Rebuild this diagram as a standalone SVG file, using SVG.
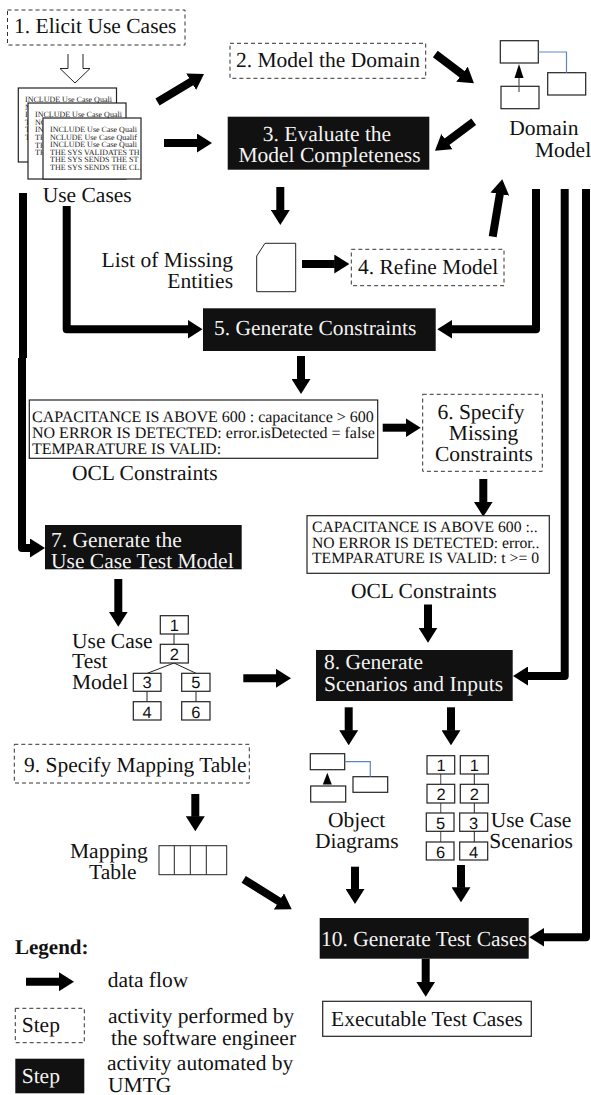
<svg xmlns="http://www.w3.org/2000/svg" width="591" height="1095" viewBox="0 0 591 1095">
<style>
text{font-family:"Liberation Serif","Times New Roman",serif;font-size:21.5px;fill:#111;text-rendering:geometricPrecision}
.w{fill:#f4f4f4}
.d{font-size:8px;fill:#222}
.o1{font-size:16px}
.o2{font-size:15.7px}
.n{font-family:"Liberation Sans",Arial,sans-serif;font-size:16.5px;text-anchor:middle}
.m{text-anchor:middle}
.e{text-anchor:end}
.dash{fill:#fff;stroke:#333;stroke-width:1;stroke-dasharray:4 3}
.blk{fill:#111;stroke:none}
.box{fill:#fff;stroke:#222;stroke-width:1.2}
.thin{fill:none;stroke:#222;stroke-width:1}
.blue{fill:none;stroke:#5b86c4;stroke-width:1.2}
.f{fill:none;stroke:#000;stroke-width:8;stroke-linejoin:round;marker-end:url(#a)}
.p{fill:none;stroke:#000;stroke-width:8;stroke-linecap:butt}
</style>
<defs>
<marker id="a" markerUnits="userSpaceOnUse" viewBox="0 0 15 19" markerWidth="15" markerHeight="19" refX="0.5" refY="9.5" orient="auto"><path d="M0 0L15 9.5L0 19z" fill="#000"/></marker>
</defs>
<rect width="591" height="1095" fill="#fff"/>
<g opacity="0.999">
<g id="connectors">
<path class="thin" d="M68 54V68.500H60L75 83L90 68.500H83V54"/>
<path class="f" d="M157.500 102L191.600 81.500"/>
<path class="f" d="M164 143H197.500"/>
<path class="f" d="M435.300 54L462.400 74.500"/>
<path class="f" d="M473.700 121.700L446.600 142"/>
<path class="f" d="M280.300 187V210.500"/>
<path class="f" d="M302 264H334.800"/>
<path class="f" d="M492.700 236.700L499.900 193.600"/>
<path class="f" d="M66.700 206V329.300H188"/>
<path class="p" d="M23 193V358"/>
<path class="f" d="M22 358V548H30.500"/>
<path class="f" d="M536 189V329.300H451.800"/>
<path class="f" d="M564.700 189V676H527.500"/>
<path class="f" d="M586 189V937.300H543.800"/>
<path class="f" d="M301 356V379.500"/>
<path class="f" d="M382.700 427.700H406.200"/>
<path class="f" d="M483.300 479V502.200"/>
<path class="f" d="M428 604.500V628.200"/>
<path class="f" d="M118.300 579V612.200"/>
<path class="f" d="M243.300 678.300H276.500"/>
<path class="f" d="M348.700 707.300V730.800"/>
<path class="f" d="M451 707.300V730.800"/>
<path class="f" d="M195.300 794V816.800"/>
<path class="f" d="M243.700 879.300L279.400 901.600"/>
<path class="f" d="M355 866.700V889.500"/>
<path class="f" d="M461 865V887.800"/>
<path class="f" d="M425.700 958.700V982.200"/>
<path class="f" d="M26 981.700H59.500"/>
</g>
<g id="n1"><rect class="dash" x="7.500" y="10" width="177.500" height="35"/><text x="14" y="33">1. Elicit Use Cases</text></g>
<g id="use-cases">
<rect class="box" x="18.300" y="88" width="98.200" height="74"/>
<text class="d" x="25" y="102">INCLUDE Use Case Quali</text>
<text class="d" x="25" y="109.500">N</text>
<text class="d" x="25" y="117">I</text>
<text class="d" x="25" y="125">T</text>
<text class="d" x="25" y="132">T</text>
<text class="d" x="25" y="140">T</text>
<rect class="box" x="28" y="103" width="98" height="76"/>
<text class="d" x="35" y="117">INCLUDE Use Case Quali</text>
<text class="d" x="35" y="125">NC</text>
<text class="d" x="35" y="132">IN</text>
<text class="d" x="35" y="140">TH</text>
<text class="d" x="35" y="147.500">TH</text>
<text class="d" x="35" y="155">TH</text>
<rect class="box" x="43" y="118" width="98" height="61"/>
<text class="d" x="50" y="132">INCLUDE Use Case Quali</text>
<text class="d" x="50" y="139.500">NCLUDE Use Case Qualif</text>
<text class="d" x="50" y="147">INCLUDE Use Case Quali</text>
<text class="d" x="50" y="154.500">THE SYS VALIDATES TH</text>
<text class="d" x="50" y="162">THE SYS SENDS THE ST</text>
<text class="d" x="50" y="170">THE SYS SENDS THE CL.</text>
<text x="42.700" y="201.700">Use Cases</text>
</g>
<g id="n2"><rect class="dash" x="230" y="43.300" width="195.700" height="35"/><text x="236" y="67">2. Model the Domain</text></g>
<g id="n3"><rect class="blk" x="227.700" y="116.700" width="201.600" height="53"/><text class="w m" x="327" y="141">3. Evaluate the</text><text class="w m" x="329.500" y="161.700">Model Completeness</text></g>
<g id="domain-model">
<rect class="box" x="500.300" y="40.700" width="38" height="22.300"/>
<rect class="box" x="547.700" y="72.700" width="38" height="22.300"/>
<rect class="box" x="501" y="86.300" width="38" height="22.400"/>
<path class="blue" d="M538.300 52H566.500V72.700"/>
<path d="M519 92V76" stroke="#555" stroke-width="1.200" fill="none"/>
<path d="M519 64L523.500 78H514.500z" fill="#000"/>
<text x="509.300" y="135">Domain</text><text x="535" y="156.700">Model</text>
</g>
<g id="missing-entities">
<path class="thin" d="M265 243.300H295.700V291.700H256.700V256z"/>
<text class="e" x="233" y="266.700">List of Missing</text><text class="e" x="233" y="288.300">Entities</text>
</g>
<g id="n4"><rect class="dash" x="351.300" y="249.300" width="152.700" height="36.400"/><text x="358" y="274.300">4. Refine Model</text></g>
<g id="n5"><rect class="blk" x="203" y="308.300" width="232.700" height="42.700"/><text class="w" x="214" y="334.700">5. Generate Constraints</text></g>
<g id="ocl1">
<rect class="box" x="29.300" y="400" width="348.400" height="58.300"/>
<text class="o1" x="32" y="422">CAPACITANCE IS ABOVE 600 : capacitance &gt; 600</text>
<text class="o1" x="32" y="438">NO ERROR IS DETECTED: error.isDetected = false</text>
<text class="o1" x="32" y="454">TEMPARATURE IS VALID:</text>
<text x="72" y="480">OCL Constraints</text>
</g>
<g id="n6"><rect class="dash" x="422.700" y="394.300" width="119.600" height="77"/><text class="m" x="481" y="419.300">6. Specify</text><text class="m" x="483.500" y="440">Missing</text><text class="m" x="484" y="460.700">Constraints</text></g>
<g id="ocl2">
<rect class="box" x="307" y="515.700" width="242.300" height="57.600"/>
<text class="o2" x="312" y="531.700">CAPACITANCE IS ABOVE 600 :..</text>
<text class="o2" x="312" y="548">NO ERROR IS DETECTED: error..</text>
<text class="o2" x="312" y="563.300">TEMPARATURE IS VALID: t &gt;= 0</text>
<text x="351" y="598">OCL Constraints</text>
</g>
<g id="n7"><rect class="blk" x="45" y="525" width="196.700" height="44.300"/><text class="w" x="51" y="546.700">7. Generate the</text><text class="w" x="51" y="567.700">Use Case Test Model</text></g>
<g id="test-model">
<text x="72" y="647.700">Use Case</text><text x="72" y="668.300">Test</text><text x="72" y="689.300">Model</text>
<path class="thin" d="M174 634V644.300M174 663L147.300 673.300M174 663L196 673.300M147 691.300V701.700M196 691.300V701.700"/>
<rect class="box" x="160.300" y="615.700" width="28" height="18.300"/><text class="n" x="174.300" y="630.700">1</text>
<rect class="box" x="160.300" y="644.300" width="28" height="18.700"/><text class="n" x="174.300" y="660">2</text>
<rect class="box" x="133.300" y="673.300" width="27.700" height="18"/><text class="n" x="147" y="688.300">3</text>
<rect class="box" x="181.700" y="673.300" width="28.300" height="18"/><text class="n" x="195.800" y="688.300">5</text>
<rect class="box" x="133.300" y="701.700" width="27.700" height="18.300"/><text class="n" x="147" y="718">4</text>
<rect class="box" x="181.700" y="701.700" width="28.300" height="18.300"/><text class="n" x="195.800" y="718">6</text>
</g>
<g id="n8"><rect class="blk" x="316" y="650" width="196.700" height="51"/><text class="w" x="324" y="669.300">8. Generate</text><text class="w" x="324" y="691.300">Scenarios and Inputs</text></g>
<g id="n9"><rect class="dash" x="14.300" y="744.300" width="235" height="38.700"/><text x="24" y="771.700">9. Specify Mapping Table</text></g>
<g id="mapping-table">
<text x="70" y="858.300">Mapping</text><text x="89" y="879.300">Table</text>
<rect class="thin" x="159" y="845.700" width="67.700" height="29"/>
<path class="thin" d="M174.300 845.700V874.700M190.300 845.700V874.700M206.300 845.700V874.700"/>
</g>
<g id="object-diagrams">
<rect class="box" x="310.300" y="753.700" width="34.400" height="16"/>
<rect class="box" x="353" y="776.700" width="34.700" height="15.600"/>
<rect class="box" x="310.700" y="786" width="35" height="16"/>
<path class="blue" d="M344.700 761.700H370.300V776.700"/>
<path d="M327.300 772.700L331.800 784.500H322.800z" fill="#000"/>
<text x="328" y="826.700">Object</text><text x="315" y="848.300">Diagrams</text>
</g>
<g id="scenarios">
<path d="M440.700 774V842" fill="none" stroke="#666" stroke-width="1.200"/>
<path class="thin" d="M474.300 774V842"/>
<rect class="box" x="427" y="755.700" width="27.700" height="18.300"/><text class="n" x="441" y="771">1</text>
<rect class="box" x="460.300" y="755.700" width="28" height="18.300"/><text class="n" x="474.300" y="771">1</text>
<rect class="box" x="427" y="784.300" width="27.700" height="18.700"/><text class="n" x="441" y="800">2</text>
<rect class="box" x="460.300" y="784.300" width="28" height="18.700"/><text class="n" x="474.300" y="800">2</text>
<rect class="box" x="426.300" y="813" width="27.700" height="18.300"/><text class="n" x="440.500" y="829">5</text>
<rect class="box" x="459.700" y="813" width="28" height="18.300"/><text class="n" x="473.700" y="829">3</text>
<rect class="box" x="426.300" y="842" width="27.700" height="18"/><text class="n" x="440.500" y="858">6</text>
<rect class="box" x="459.700" y="842" width="28" height="18"/><text class="n" x="473.700" y="858">4</text>
<text x="490.700" y="826.700">Use Case</text><text x="489.300" y="847.700">Scenarios</text>
</g>
<g id="n10"><rect class="blk" x="319.700" y="918" width="209" height="40.700"/><text class="w" x="321" y="945.700">10. Generate Test Cases</text></g>
<g id="executable"><rect class="box" x="322.700" y="1001.300" width="208.600" height="35"/><text x="331" y="1025.700">Executable Test Cases</text></g>
<g id="legend">
<text x="15" y="954" font-weight="bold" style="font-size:21px">Legend:</text>
<text x="107.700" y="986.700">data flow</text>
<rect class="dash" x="15.300" y="1008.300" width="69" height="34.400"/><text x="21.700" y="1032.300">Step</text>
<text x="108" y="1023.300">activity performed by</text>
<text x="111" y="1045">the software engineer</text>
<rect class="blk" x="15.300" y="1058.700" width="69" height="34.600"/><text class="w" x="21.700" y="1083.300">Step</text>
<text x="107" y="1070">activity automated by</text>
<text x="108" y="1091.700">UMTG</text>
</g>
</g>
</svg>
